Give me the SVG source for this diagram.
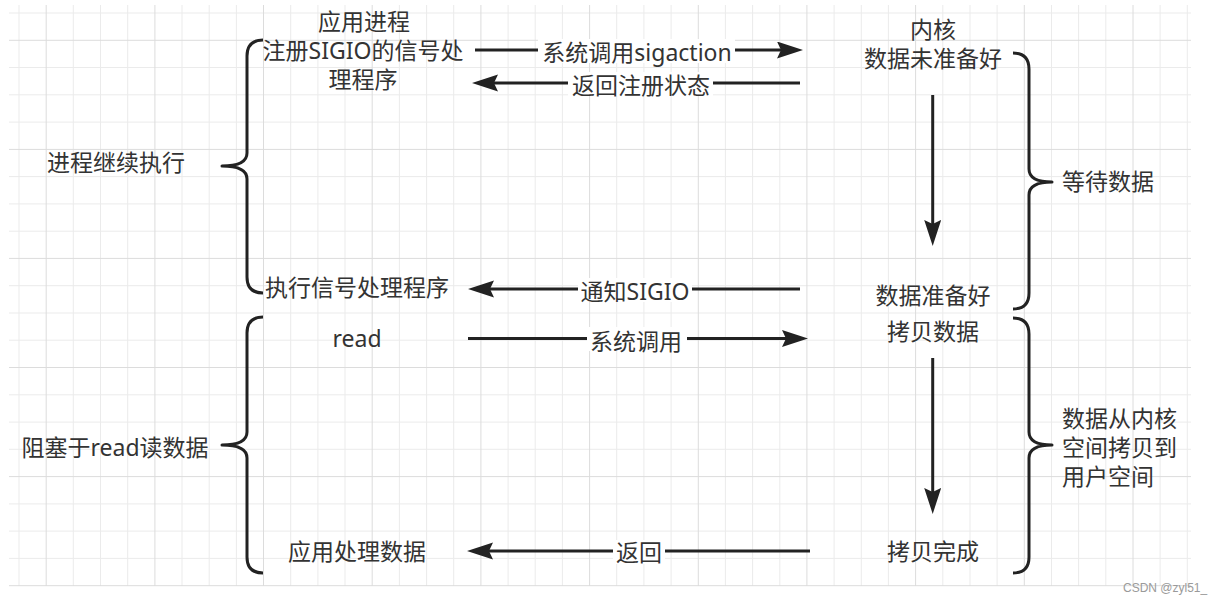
<svg xmlns="http://www.w3.org/2000/svg" width="1214" height="604" viewBox="0 0 1214 604">
<style>
.minor{stroke:#ebebeb;stroke-width:1;fill:none}
.major{stroke:#dcdcdc;stroke-width:1;fill:none}
.t{font-family:"Noto Sans","Noto Sans CJK SC",sans-serif;font-size:23px;fill:#333;text-anchor:middle}
.ts{text-anchor:start}
.edge{stroke:#222;stroke-width:3;fill:none}
.brace{stroke:#222;stroke-width:3;fill:none;stroke-linejoin:round}
.lbg{fill:#fff}
.wm{font-family:"Liberation Sans","Noto Sans",sans-serif;font-size:12px;fill:#9a9a9a}
</style>
<defs>
<marker id="arr" markerUnits="userSpaceOnUse" markerWidth="27" markerHeight="18" refX="12" refY="8.5" orient="auto">
<path d="M0,0 L26,8.5 L0,17 L4,8.5 Z" fill="#222"/>
</marker>
</defs>
<rect width="1214" height="604" fill="#fff"/>
<g id="grid">
<path class="minor" d="M19,5V586 M73.3,5V586 M100.5,5V586 M127.7,5V586 M182,5V586 M209.2,5V586 M236.4,5V586 M290.7,5V586 M317.9,5V586 M345,5V586 M399.4,5V586 M426.6,5V586 M453.7,5V586 M508.1,5V586 M535.2,5V586 M562.4,5V586 M616.7,5V586 M643.9,5V586 M671.1,5V586 M725.4,5V586 M752.6,5V586 M779.8,5V586 M834.1,5V586 M861.3,5V586 M888.4,5V586 M942.8,5V586 M970,5V586 M997.1,5V586 M1051.5,5V586 M1078.6,5V586 M1105.8,5V586 M1160.1,5V586 M1187.3,5V586 M9,13H1191 M9,67.5H1191 M9,94.8H1191 M9,122.1H1191 M9,176.6H1191 M9,203.9H1191 M9,231.2H1191 M9,285.7H1191 M9,313H1191 M9,340.2H1191 M9,394.8H1191 M9,422.1H1191 M9,449.3H1191 M9,503.9H1191 M9,531.1H1191 M9,558.4H1191"/>
<path class="major" d="M46.2,5V586 M154.9,5V586 M263.5,5V586 M372.2,5V586 M480.9,5V586 M589.6,5V586 M698.3,5V586 M806.9,5V586 M915.6,5V586 M1024.3,5V586 M1133,5V586 M9,40.3H1191 M9,149.4H1191 M9,258.4H1191 M9,367.5H1191 M9,476.6H1191 M9,585.7H1191"/>
</g>
<g id="connectors">
<path class="edge" d="M475,50H789" marker-end="url(#arr)"/>
<path class="edge" d="M800,83H486" marker-end="url(#arr)"/>
<path class="edge" d="M800,289H482" marker-end="url(#arr)"/>
<path class="edge" d="M468,338.5H794" marker-end="url(#arr)"/>
<path class="edge" d="M810,551H481" marker-end="url(#arr)"/>
<path class="edge" d="M932.7,95V232" marker-end="url(#arr)"/>
<path class="edge" d="M932.7,358V500" marker-end="url(#arr)"/>
<rect class="lbg" x="538" y="39" width="197" height="24"/>
<rect class="lbg" x="568" y="72" width="145" height="24"/>
<rect class="lbg" x="578" y="278" width="114" height="24"/>
<rect class="lbg" x="587" y="327" width="100" height="24"/>
<rect class="lbg" x="613" y="540" width="52" height="24"/>
<text class="t" x="637" y="61">系统调用sigaction</text>
<text class="t" x="641" y="94">返回注册状态</text>
<text class="t" x="635" y="300">通知SIGIO</text>
<text class="t" x="636" y="350">系统调用</text>
<text class="t" x="639" y="561">返回</text>
</g>
<g id="brace-left-1">
<path class="brace" d="M263,40 Q247,40 247,56 L247,153 Q247,166 222,166 Q247,166 247,179 L247,277 Q247,293 263,293"/>
<text class="t" x="116" y="171">进程继续执行</text>
</g>
<g id="brace-left-2">
<path class="brace" d="M263,317 Q247,317 247,333 L247,432 Q247,445 222,445 Q247,445 247,458 L247,557 Q247,573 263,573"/>
<text class="t" x="115" y="456">阻塞于read读数据</text>
</g>
<g id="brace-right-1">
<path class="brace" d="M1013,53 Q1029,53 1029,69 L1029,169 Q1029,182 1052,182 Q1029,182 1029,195 L1029,293 Q1029,309 1013,309"/>
<text class="t ts" x="1062" y="190">等待数据</text>
</g>
<g id="brace-right-2">
<path class="brace" d="M1013,318 Q1029,318 1029,334 L1029,432 Q1029,445 1052,445 Q1029,445 1029,458 L1029,557 Q1029,573 1013,573"/>
<text class="t ts" x="1062" y="427">数据从内核</text>
<text class="t ts" x="1062" y="456">空间拷贝到</text>
<text class="t ts" x="1062" y="485">用户空间</text>
</g>
<g id="app-register">
<text class="t" x="364" y="29.5">应用进程</text>
<text class="t" x="363" y="58.5">注册SIGIO的信号处</text>
<text class="t" x="363" y="87.5">理程序</text>
</g>
<g id="kernel-not-ready">
<text class="t" x="933" y="38">内核</text>
<text class="t" x="933" y="67">数据未准备好</text>
</g>
<g id="app-handler">
<text class="t" x="357" y="296">执行信号处理程序</text>
</g>
<g id="kernel-ready">
<text class="t" x="933" y="304">数据准备好</text>
</g>
<g id="kernel-copy">
<text class="t" x="933" y="340">拷贝数据</text>
</g>
<g id="app-read">
<text class="t" x="357" y="347">read</text>
</g>
<g id="app-process">
<text class="t" x="357" y="560">应用处理数据</text>
</g>
<g id="kernel-copy-done">
<text class="t" x="933" y="560">拷贝完成</text>
</g>
<text class="wm" x="1123" y="592">CSDN @zyl51_</text>
</svg>
